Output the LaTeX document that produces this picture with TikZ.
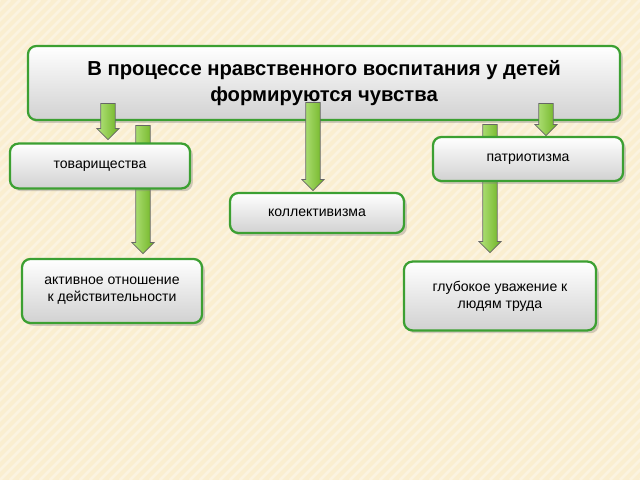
\documentclass[tikz,border=0pt]{standalone}
\usepackage{fontspec}
\setmainfont{Liberation Sans}
\usetikzlibrary{shapes.arrows, shadows, positioning}

\definecolor{boxgreen}{RGB}{60,160,50}
\definecolor{arrowgreen}{RGB}{130,210,40}
\definecolor{bgbeige}{RGB}{250,238,208}

\begin{document}
\begin{tikzpicture}[
    x=0.025cm, y=-0.025cm,
    box/.style={rectangle, rounded corners=6pt, draw=boxgreen, line width=1.6pt,
        top color=white, bottom color=black!18, align=center, font=\normalsize,
        drop shadow={opacity=0.35, shadow xshift=2pt, shadow yshift=-2pt}},
    greenarrow/.style={single arrow, shape border rotate=270, draw=black!60, line width=0.5pt,
        left color=arrowgreen!60!white, right color=arrowgreen!85!black,
        minimum width=0.55cm, single arrow head extend=0.08cm, inner sep=0.14cm,
        text width=0pt, text height=0pt, text depth=0pt}
]
\useasboundingbox (0,0) rectangle (640,480);
% background
\begin{scope}
\clip (0,0) rectangle (640,480);
\fill[bgbeige] (0,0) rectangle (640,480);
\foreach \i in {-480,-470,...,640}
    \draw[white, opacity=0.35, line width=2pt] (\i,480) -- (\i+480,0);
\end{scope}

% long arrows behind the title
\node[greenarrow, minimum height=3.2cm] (a2) at (143,186) {};
\node[greenarrow, minimum height=3.2cm] (a4) at (490,185) {};

% boxes
\node[box, minimum width=14.8cm, minimum height=1.85cm, font=\Large\bfseries] (title) at (324,83)
    {В процессе нравственного воспитания у детей\\формируются чувства};

% arrows in front of the title
\node[greenarrow, minimum height=0.9cm] (a1) at (108,118) {};
\node[greenarrow, minimum height=2.2cm] (a3) at (313,143) {};
\node[greenarrow, minimum height=0.8cm] (a5) at (546,116) {};

\node[box, minimum width=4.5cm, minimum height=1.12cm] (tov) at (100,166) {товарищества};
\node[box, minimum width=4.35cm, minimum height=1.0cm] (kol) at (317,213) {коллективизма};
\node[box, minimum width=4.75cm, minimum height=1.1cm] (pat) at (528,159) {патриотизма};
\node[box, minimum width=4.5cm, minimum height=1.6cm] (akt) at (112,291)
    {активное отношение\\к действительности};
\node[box, minimum width=4.8cm, minimum height=1.72cm] (glu) at (500,296)
    {глубокое уважение к\\людям труда};
\end{tikzpicture}
\end{document}
